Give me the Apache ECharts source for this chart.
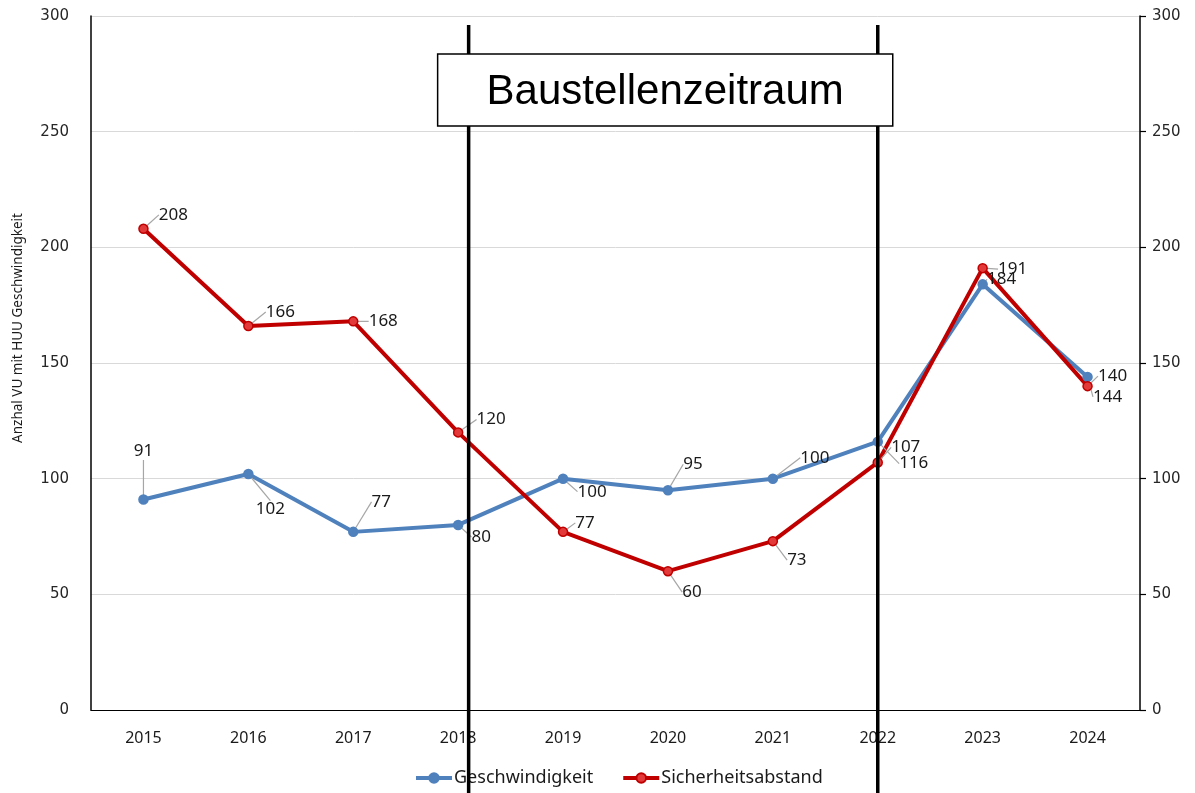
<!DOCTYPE html>
<html>
<head>
<meta charset="utf-8">
<script src="https://cdn.jsdelivr.net/npm/echarts@6/dist/echarts.min.js"></script>
<style>
  html, body { margin: 0; padding: 0; background: #fff; }
  #chart { width: 1195px; height: 793px; }
</style>
</head>
<body>
<div id="chart"></div>
<script>
// Unfälle (VU) mit Hauptunfallursache je Jahr
const years = ['2015', '2016', '2017', '2018', '2019', '2020', '2021', '2022', '2023', '2024'];
const geschwindigkeit = [91, 102, 77, 80, 100, 95, 100, 116, 184, 144];
const sicherheitsabstand = [208, 166, 168, 120, 77, 60, 73, 107, 191, 140];
const yTicks = [0, 50, 100, 150, 200, 250, 300];

// Label offsets from each marker (px), so that labels avoid the lines
const labelShiftBlue = [[0, -48], [22, 35], [28, -30], [23, 12], [29, 13], [25, -26], [42, -21], [36, 22], [19, -5], [20, 20]];
const labelShiftRed = [[30, -14], [32, -14], [30, 0], [33, -13], [22, -9], [24, 21], [24, 19], [28, -15], [30, 1], [25, -10]];

const BLUE = '#4F81BD';
const RED = '#C00000';
const LABEL_FONT = '"Noto Sans", "Open Sans", sans-serif';

const chart = echarts.init(document.getElementById('chart'), null, { renderer: 'canvas' });

function seriesDef(name, data, color, markerFill, shifts) {
  return {
    name: name,
    type: 'line',
    data: data,
    yAxisIndex: 0,
    symbol: 'circle',
    symbolSize: 9,
    lineStyle: { color: color, width: 4 },
    itemStyle: { color: markerFill, borderColor: color, borderWidth: 1.5 },
    emphasis: { disabled: true },
    label: {
      show: true,
      position: 'inside',
      color: '#1a1a1a',
      fontFamily: LABEL_FONT,
      fontSize: 17
    },
    labelLine: { show: true, lineStyle: { color: '#a6a6a6', width: 1.2 }, minTurnAngle: 0 },
    labelLayout: function (p) {
      const s = shifts[p.dataIndex];
      return {
        x: p.rect.x + p.rect.width / 2 + s[0],
        y: p.rect.y + p.rect.height / 2 + s[1],
        align: 'center',
        verticalAlign: 'middle'
      };
    }
  };
}

const yLabelStyle = { color: '#262626', fontFamily: '"DejaVu Sans", sans-serif', fontSize: 15 };

chart.setOption({
  animation: false,
  backgroundColor: '#ffffff',
  grid: { left: 91, right: 55, top: 16, bottom: 83, containLabel: false },
  legend: {
    bottom: 1,
    left: 409,
    itemWidth: 36,
    itemHeight: 12,
    itemGap: 28,
    lineStyle: { width: 4 },
    textStyle: { color: '#1a1a1a', fontFamily: LABEL_FONT, fontSize: 18, padding: [0, 0, 0, -3] },
    data: ['Geschwindigkeit', 'Sicherheitsabstand']
  },
  xAxis: {
    type: 'category',
    data: years,
    boundaryGap: true,
    axisLine: { show: true, lineStyle: { color: '#000', width: 1.2 } },
    axisTick: { show: false },
    axisLabel: { color: '#1a1a1a', fontFamily: LABEL_FONT, fontSize: 16, margin: 20 }
  },
  yAxis: [
    {
      type: 'value',
      min: yTicks[0],
      max: yTicks[yTicks.length - 1],
      interval: 50,
      position: 'left',
      axisLine: { show: true, lineStyle: { color: '#000', width: 1.5 } },
      axisTick: { show: false },
      axisLabel: Object.assign({ margin: 22 }, yLabelStyle),
      splitLine: { show: true, lineStyle: { color: '#d9d9d9', width: 1 } }
    },
    {
      type: 'value',
      min: yTicks[0],
      max: yTicks[yTicks.length - 1],
      interval: 50,
      position: 'right',
      axisLine: { show: true, lineStyle: { color: '#000', width: 1.5 } },
      axisTick: { show: true, inside: false, length: 6, lineStyle: { color: '#000', width: 1.2 } },
      axisLabel: Object.assign({ margin: 12 }, yLabelStyle),
      splitLine: { show: false }
    }
  ],
  series: [
    seriesDef('Geschwindigkeit', geschwindigkeit, BLUE, BLUE, labelShiftBlue),
    seriesDef('Sicherheitsabstand', sicherheitsabstand, RED, '#E23A3A', labelShiftRed)
  ]
});

// Construction period markers and caption box
function drawAnnotations() {
  const band = chart.convertToPixel({ xAxisIndex: 0 }, '2016') - chart.convertToPixel({ xAxisIndex: 0 }, '2015');
  const xStart = chart.convertToPixel({ xAxisIndex: 0 }, '2018') + band * 0.1;
  const xEnd = chart.convertToPixel({ xAxisIndex: 0 }, '2022');
  const yTop = 25;
  const yBottom = 793;
  const boxLeft = xStart - 31;
  const boxRight = xEnd + 15;
  chart.setOption({
    graphic: [
      {
        type: 'line', z: 100, silent: true,
        shape: { x1: xStart, y1: yTop, x2: xStart, y2: yBottom },
        style: { stroke: '#000', lineWidth: 3.5 }
      },
      {
        type: 'line', z: 100, silent: true,
        shape: { x1: xEnd, y1: yTop, x2: xEnd, y2: yBottom },
        style: { stroke: '#000', lineWidth: 3.5 }
      },
      {
        type: 'rect', z: 101, silent: true,
        shape: { x: boxLeft, y: 54, width: boxRight - boxLeft, height: 72 },
        style: { fill: '#fff', stroke: '#000', lineWidth: 1.5 }
      },
      {
        type: 'text', z: 102, silent: true,
        x: (boxLeft + boxRight) / 2, y: 92,
        style: {
          text: 'Baustellenzeitraum',
          fill: '#000',
          font: '42px "Liberation Sans", Arial, sans-serif',
          textAlign: 'center',
          textVerticalAlign: 'middle'
        }
      },
      {
        type: 'text', z: 102, silent: true,
        x: 18, y: 328, rotation: Math.PI / 2,
        style: {
          text: 'Anzhal VU mit HUU Geschwindigkeit',
          fill: '#1a1a1a',
          font: '13.5px "Noto Sans", "Open Sans", sans-serif',
          textAlign: 'center',
          textVerticalAlign: 'middle'
        }
      }
    ]
  });
}
drawAnnotations();
</script>
</body>
</html>
